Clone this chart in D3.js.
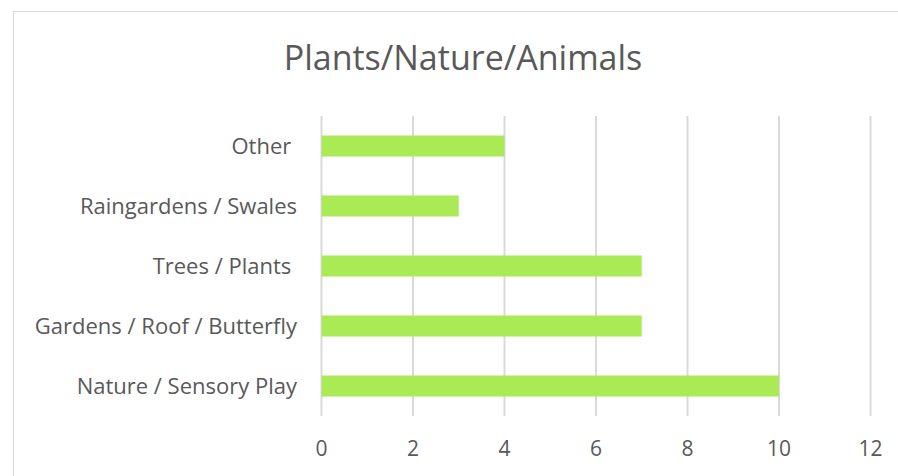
<!DOCTYPE html>
<html>
<head>
<meta charset="utf-8">
<script src="https://cdn.jsdelivr.net/npm/d3@7"></script>
<style>
  body { margin: 0; background: #fff; }
  text { font-family: "Open Sans", sans-serif; fill: #595959; }
</style>
</head>
<body>
<svg width="898" height="476"></svg>
<script>
var categories = ["Other ", "Raingardens / Swales", "Trees / Plants ", "Gardens / Roof / Butterfly", "Nature / Sensory Play"];
var values = [4, 3, 7, 7, 10];
var ticks = [0, 2, 4, 6, 8, 10, 12];
var title = "Plants/Nature/Animals";

var svg = d3.select("svg"),
    width = +svg.attr("width"),
    height = +svg.attr("height");

// chart border
svg.append("rect")
    .attr("x", 13.5).attr("y", 11.5)
    .attr("width", 900).attr("height", 480)
    .attr("fill", "none")
    .attr("stroke", "#d9d9d9");

var x = d3.scaleLinear().domain([0, 12]).range([321.5, 870.5]);
var y = d3.scaleBand().domain(categories).range([116, 416]).paddingInner(0.65).paddingOuter(0.325);

var g = svg.append("g");

g.selectAll(".grid")
    .data(ticks)
    .enter().append("line")
    .attr("class", "grid")
    .attr("x1", function(d) { return x(d); })
    .attr("x2", function(d) { return x(d); })
    .attr("y1", 116).attr("y2", 416)
    .attr("stroke", "#d9d9d9")
    .attr("stroke-width", 2);

g.selectAll(".bar")
    .data(values)
    .enter().append("rect")
    .attr("class", "bar")
    .attr("x", x(0))
    .attr("y", function(d, i) { return y(categories[i]); })
    .attr("width", function(d) { return x(d) - x(0); })
    .attr("height", y.bandwidth())
    .attr("fill", "#a9ea55");

g.selectAll(".ylab")
    .data(categories)
    .enter().append("text")
    .attr("class", "ylab")
    .attr("x", 297)
    .attr("y", function(d) { return y(d) + y.bandwidth() / 2; })
    .attr("dy", "0.35em")
    .attr("text-anchor", "end")
    .style("white-space", "pre")
    .style("font-size", "22px")
    .text(function(d) { return d; });

g.selectAll(".xlab")
    .data(ticks)
    .enter().append("text")
    .attr("class", "xlab")
    .attr("x", function(d) { return x(d); })
    .attr("y", 449)
    .attr("dy", "0.35em")
    .attr("text-anchor", "middle")
    .style("font-size", "21px")
    .text(function(d) { return d; });

svg.append("text")
    .attr("x", 463)
    .attr("y", 58)
    .attr("dy", "0.35em")
    .attr("text-anchor", "middle")
    .style("font-size", "34px")
    .text(title);
</script>
</body>
</html>
